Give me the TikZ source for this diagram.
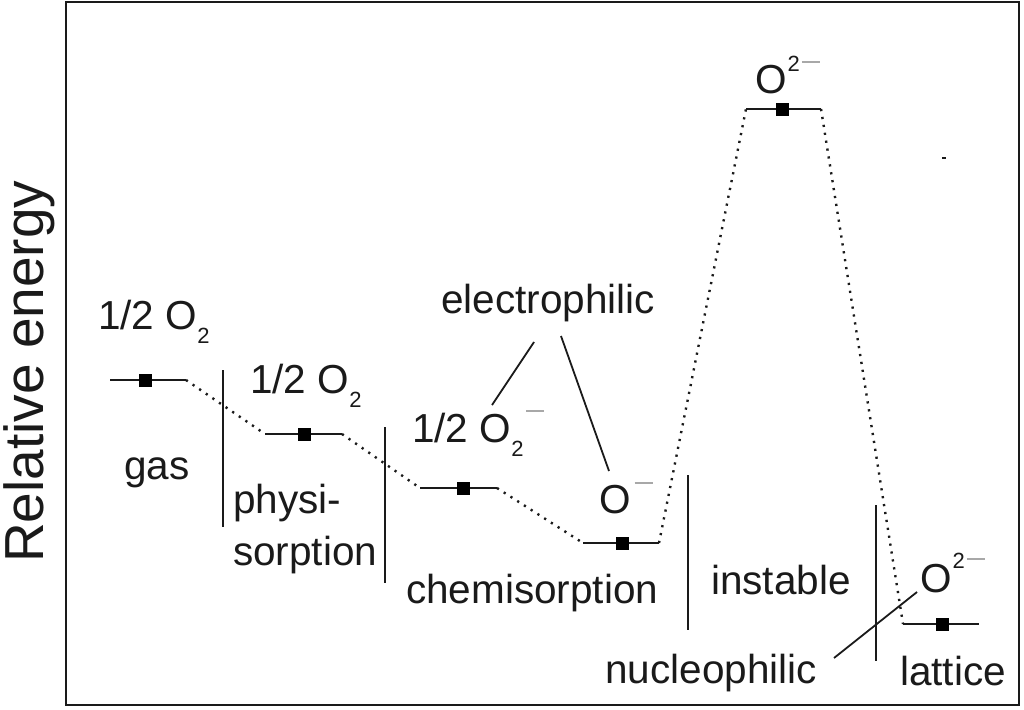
\documentclass[tikz,border=0pt]{standalone}
\usepackage{fontspec}
\setmainfont{Liberation Sans}
\definecolor{mgray}{HTML}{A8A8A8}
\definecolor{ink}{HTML}{1A1A1A}
\newcommand{\lbl}{\fontsize{40.5}{48}\selectfont}
\newcommand{\subtwo}{\raisebox{-14pt}{\fontsize{22}{22}\selectfont 2}}
\newcommand{\suptwo}[1]{\raisebox{#1}{\fontsize{22}{22}\selectfont 2}}
\newcommand{\mns}[1]{\textcolor{mgray}{\rule[#1]{18pt}{2pt}}}
\begin{document}
\begin{tikzpicture}[x=1pt,y=-1pt,
  level/.style={draw=ink,line width=2.2pt},
  sq/.style={fill=black,draw=none,minimum size=13pt,inner sep=0pt,rectangle},
  dots/.style={draw=ink,line width=2.4pt,dash pattern=on 2.2pt off 5.8pt},
  sep/.style={draw=ink,line width=2.2pt},
  ptr/.style={draw=ink,line width=1.8pt},
  txt/.style={anchor=base west,inner sep=0pt,text=ink,font=\lbl}]
\useasboundingbox (0,0) rectangle (1024,709);
\fill[white] (0,0) rectangle (1024,709);
\draw[ink,line width=2.5pt] (66,2) rectangle (1019,705);

% axis label
\node[anchor=base west,inner sep=0pt,rotate=90,text=ink,font=\fontsize{55}{60}\selectfont] (ylab) at (43,563) {Relative energy};

% levels
\coordinate (g1) at (110,380); \coordinate (g2) at (186,380);
\coordinate (p1) at (265,434); \coordinate (p2) at (342,434);
\coordinate (c1) at (420,488); \coordinate (c2) at (497,488);
\coordinate (o1) at (583,543); \coordinate (o2) at (659,543);
\coordinate (t1) at (746,109); \coordinate (t2) at (821,109);
\coordinate (l1) at (903,624); \coordinate (l2) at (979,624);
\draw[level] (g1) -- (g2);
\draw[level] (p1) -- (p2);
\draw[level] (c1) -- (c2);
\draw[level] (o1) -- (o2);
\draw[level] (t1) -- (t2);
\draw[level] (l1) -- (l2);
\node[sq] (sg) at (145,380) {};
\node[sq] (sp) at (304,434) {};
\node[sq] (sc) at (463,488) {};
\node[sq] (so) at (622,543) {};
\node[sq] (st) at (782,109) {};
\node[sq] (sl) at (942,624) {};

% dotted connectors
\draw[dots] (g2) -- (p1);
\draw[dots] (p2) -- (c1);
\draw[dots] (c2) -- (o1);
\draw[dots] (o2) -- (t1);
\draw[dots] (t2) -- (l1);

% separators
\coordinate (v1a) at (223,370); \coordinate (v1b) at (223,527);
\coordinate (v2a) at (385,427); \coordinate (v2b) at (385,583);
\coordinate (v3a) at (688,475); \coordinate (v3b) at (688,630);
\coordinate (v4a) at (876,505); \coordinate (v4b) at (876,661);
\draw[sep] (v1a) -- (v1b);
\draw[sep] (v2a) -- (v2b);
\draw[sep] (v3a) -- (v3b);
\draw[sep] (v4a) -- (v4b);

% labels
\node[txt] (tg) at (98,329) {1/2 O\subtwo};
\node[txt] (tp) at (250,393) {1/2 O\subtwo};
\node[txt] (tc) at (412,442) {1/2 O\subtwo\hspace{3pt}\mns{30pt}};
\node[txt] (to) at (599,513) {O\hspace{4pt}\mns{29pt}};
\node[txt] (tt) at (755,93) {O\hspace{1pt}\suptwo{22pt}\hspace{2pt}\mns{30pt}};
\node[txt] (tl) at (920,592) {O\hspace{1pt}\suptwo{24pt}\hspace{2pt}\mns{32pt}};
\node[txt] (gas) at (124,479) {gas};
\node[txt] (phy) at (233,513) {physi-};
\node[txt] (sor) at (233,565) {sorption};
\node[txt] (chem) at (406,603) {chemisorption};
\node[txt] (elec) at (441,313) {electrophilic};
\node[txt] (inst) at (711,594) {instable};
\node[txt] (nuc) at (605,683) {nucleophilic};
\node[txt] (lat) at (900,685) {lattice};

% pointer lines
\coordinate (e1) at (534,342); \coordinate (e1t) at (492,405);
\coordinate (e2) at (561,336); \coordinate (e2t) at (609,471);
\coordinate (n1) at (834,658); \coordinate (n1t) at (917,592);
\draw[ptr] (e1) -- (e1t);
\draw[ptr] (e2) -- (e2t);
\draw[ptr] (n1) -- (n1t);

% stray mark
\coordinate (m1) at (942,158); \coordinate (m2) at (946,158);
\draw[ink,line width=1.5pt] (m1) -- (m2);
\end{tikzpicture}
\end{document}
